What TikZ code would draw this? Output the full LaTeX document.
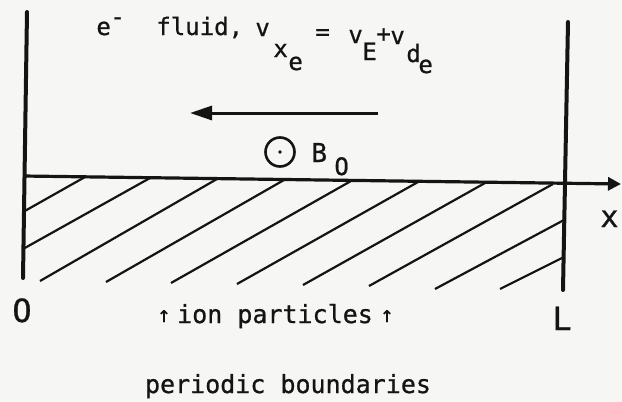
\documentclass[tikz,border=0pt]{standalone}
\usepackage{fontspec}
\newfontfamily\tw[FakeBold=0.8]{DejaVu Sans Mono}
\usetikzlibrary{arrows.meta}
\definecolor{paper}{RGB}{246,246,244}
\definecolor{ink}{RGB}{20,20,20}
\begin{document}
\begin{tikzpicture}[x=0.5pt,y=-0.5pt,
  wall/.style={draw=ink,line width=2pt,line cap=round},
  axisline/.style={draw=ink,line width=1.6pt},
  hatchline/.style={draw=ink,line width=1.1pt},
  lbl/.style={inner sep=0pt,text=ink,font=\tw\fontsize{12}{14}\selectfont},
  biglbl/.style={inner sep=0pt,text=ink,font=\tw\fontsize{16}{18}\selectfont}]
\useasboundingbox[fill=paper] (0,0) rectangle (622,402);

% walls
\coordinate (lt) at (27,12);  \coordinate (lb) at (23,278);
\coordinate (rt) at (568,22); \coordinate (rb) at (563,290);
\draw[wall] (lt) -- (lb);
\draw[wall] (rt) -- (rb);

% x axis
\coordinate (a0) at (23,176);
\coordinate (a1) at (621,184);
\draw[axisline,-{Triangle[length=6.5pt,width=6.5pt]}] (a0) -- (a1);

% hatching
\foreach \xa/\ya/\xb/\yb in {23/212/85/177, 23/249/150/178, 40/281/217/179,
  106/282/284/180, 171/283/351/181, 237/284/418/182, 303/285/485/183,
  369/286/553/184, 435/289/564/220, 500/289/564/257}
  \draw[hatchline] (\xa,\ya) -- (\xb,\yb);

% electron drift arrow
\coordinate (ds) at (378,113);
\coordinate (de) at (190,113);
\draw[draw=ink,line width=1.5pt,-{Triangle[length=11pt,width=7pt]}] (ds) -- (de);

% top label (typewriter half-line shifts)
\node[lbl,anchor=base west] (t1) at (96,35) {e};
\node[lbl,anchor=base west] (t2) at (110,25) {-};
\node[lbl,anchor=base west] (t3) at (156,35) {fluid,};
\node[lbl,anchor=base west] (t4) at (255,36) {v};
\node[lbl,anchor=base west] (t5) at (273,57) {x};
\node[lbl,anchor=base west] (t6) at (288,70) {e};
\node[lbl,anchor=base west] (t7) at (315,40) {=};
\node[lbl,anchor=base west] (t8) at (348,43) {v};
\node[lbl,anchor=base west] (t9) at (362,60) {E};
\node[lbl,anchor=base west] (t10) at (376,42) {+};
\node[lbl,anchor=base west] (t11) at (390,44) {v};
\node[lbl,anchor=base west] (t12) at (406,62) {d};
\node[lbl,anchor=base west] (t13) at (418,73) {e};

% magnetic field out of page
\node[circle,draw=ink,line width=1.3pt,minimum size=14.5pt,inner sep=0pt] (bc) at (280,152) {};
\fill[ink] (bc.center) circle[radius=0.9pt];
\node[lbl,font=\tw\fontsize{13}{15}\selectfont,anchor=base west] (bB) at (311,162) {B};
\node[lbl,font=\tw\fontsize{12}{14}\selectfont,anchor=base west] (b0) at (334,175) {O};

% axis labels
\node[biglbl,font=\tw\fontsize{15}{17}\selectfont,anchor=base west] (xl) at (600,227) {x};
\node[biglbl,anchor=base] (ol) at (22,322) {O};
\node[biglbl,anchor=base west] (ll) at (552,330) {L};

% bottom labels
\node[lbl,font=\tw\fontsize{11}{13}\selectfont,anchor=base] (ua) at (164,322) {↑};
\node[lbl,font=\tw\fontsize{12.5}{14}\selectfont,anchor=base] (ion) at (275,323) {ion particles};
\node[lbl,font=\tw\fontsize{11}{13}\selectfont,anchor=base] (ub) at (387,322) {↑};
\node[lbl,font=\tw\fontsize{12.5}{14}\selectfont,anchor=base] (pb) at (288,393) {periodic boundaries};
\end{tikzpicture}
\end{document}
